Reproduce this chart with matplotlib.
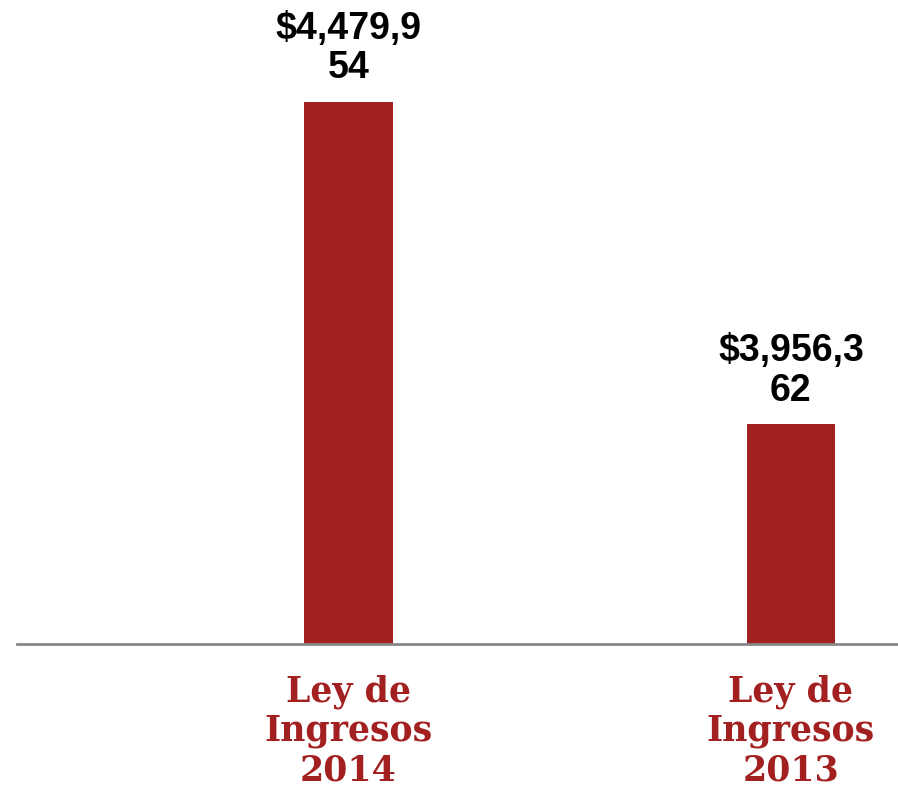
import matplotlib.pyplot as plt

# data
categories = ["Ley de\nIngresos\n2014", "Ley de\nIngresos\n2013"]
values = [4479954, 3956362]

bar_color = "#A32020"

fig = plt.figure(figsize=(8.98, 7.92), dpi=100)
ax = fig.add_axes([17 / 898, 0.1875, 1 - 17 / 898, 0.8125])

x = list(range(len(values)))
bars = ax.bar(x, values, width=0.2, color=bar_color, zorder=2)

ax.set_xlim(-0.749, 1.242)
ax.set_ylim(3600000, 4645000)

# value labels, wrapped the way the original is
for xi, v in zip(x, values):
    s = f"${v:,}"
    s = s[:8] + "\n" + s[8:]
    ax.annotate(s, (xi, v), xytext=(0, 11), textcoords="offset points",
                ha="center", va="bottom", fontsize=27, fontweight="bold",
                family="Liberation Sans", linespacing=1.12, clip_on=False)

ax.set_xticks(x)
ax.set_xticklabels(categories, fontsize=25, fontweight="bold",
                   family="DejaVu Serif", color=bar_color, linespacing=1.2)
ax.tick_params(axis="x", length=0, pad=22)
ax.set_yticks([])

for side in ["top", "left", "right"]:
    ax.spines[side].set_visible(False)
ax.spines["bottom"].set_color("#888888")
ax.spines["bottom"].set_linewidth(2)

fig.savefig("out.png", dpi=100)
